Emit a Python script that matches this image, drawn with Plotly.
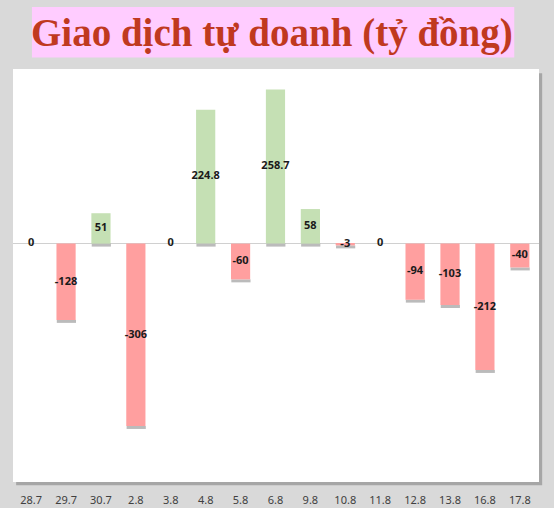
import plotly.graph_objects as go

# ngày giao dịch và giá trị tự doanh ròng (tỷ đồng)
dates = ["28.7", "29.7", "30.7", "2.8", "3.8", "4.8", "5.8", "6.8",
         "9.8", "10.8", "11.8", "12.8", "13.8", "16.8", "17.8"]
values = [0, -128, 51, -306, 0, 224.8, -60, 258.7, 58, -3, 0, -94, -103, -212, -40]
labels = ["0", "-128", "51", "-306", "0", "224.8", "-60", "258.7", "58", "-3",
          "0", "-94", "-103", "-212", "-40"]

GREEN = "#c5e0b4"
RED = "#ff9f9f"
colors = [GREEN if v >= 0 else RED for v in values]

fig = go.Figure()

# thin drop shadow under each bar
fig.add_trace(go.Bar(x=dates, y=[5 if v != 0 else 0 for v in values],
                     base=[min(v, 0) - 5 for v in values],
                     marker_color="rgba(60,60,60,0.35)", marker_line_width=0,
                     offset=-0.265, width=0.55, hoverinfo="skip", showlegend=False))
fig.add_trace(go.Bar(x=dates, y=values, marker_color=colors, marker_line_width=0,
                     offset=-0.275, width=0.55, showlegend=False))
# data labels at bar middles
fig.add_trace(go.Scatter(x=dates, y=[v / 2 for v in values], mode="text", text=labels,
                         textfont=dict(family="Noto Sans", size=11, color="#1a1a1a", weight="bold"),
                         showlegend=False, hoverinfo="skip"))

fig.update_layout(
    width=554, height=508,
    paper_bgcolor="#d9d9d9",
    plot_bgcolor="rgba(0,0,0,0)",
    margin=dict(l=13, r=15, t=69, b=26),
    barmode="overlay",
    shapes=[
        dict(type="rect", xref="paper", yref="paper", x0=0.006, x1=1.006, y0=-0.008, y1=0.99,
             fillcolor="#a6a6a6", line_width=0, layer="below"),
        dict(type="rect", xref="paper", yref="paper", x0=0, x1=1, y0=0, y1=1,
             fillcolor="white", line_width=0, layer="below"),
        dict(type="rect", xref="paper", yref="paper", x0=0.036, x1=0.953, y0=1.028, y1=1.15,
             fillcolor="#ffccff", line_width=0, layer="below"),
    ],
    annotations=[
        dict(text="<b>Giao dịch tự doanh (tỷ đồng)</b>", xref="paper", yref="paper",
             x=0.492, y=1.087, xanchor="center", yanchor="middle", showarrow=False,
             font=dict(family="Liberation Serif", size=39, color="#c0391f")),
    ],
)
fig.update_xaxes(type="category", range=[-0.52, 14.55], showgrid=False, zeroline=False,
                 showline=False, ticks="outside", ticklen=8, tickcolor="rgba(0,0,0,0)",
                 automargin=False,
                 tickfont=dict(family="Noto Sans", size=11, color="#404040"))
fig.update_yaxes(range=[-400, 293], showgrid=False, zeroline=True, zerolinecolor="#d0d0d0",
                 zerolinewidth=1, showticklabels=False, showline=False, automargin=False)

fig.write_html("out.html", config={"displayModeBar": False},
               post_script="document.body.style.margin='0';")
